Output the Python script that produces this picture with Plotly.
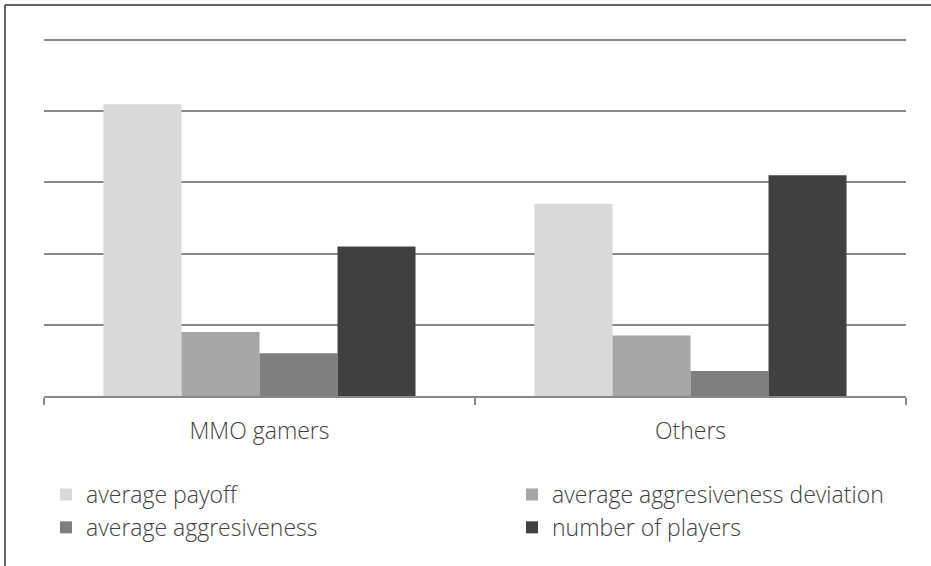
import plotly.graph_objects as go

# Group labels and series values (in gridline units, 0-5 scale)
categories = ["MMO gamers", "Others"]
series_names = [
    "average payoff",
    "average aggresiveness deviation",
    "average aggresiveness",
    "number of players",
]
avg_payoff = [4.1, 2.7]
avg_aggr_dev = [0.9, 0.85]
avg_aggr = [0.6, 0.35]
num_players = [2.1, 3.1]

series_values = [avg_payoff, avg_aggr_dev, avg_aggr, num_players]
colors = ["#d9d9d9", "#a6a6a6", "#7f7f7f", "#404040"]
# left legend column: payoff + aggressiveness; right column: deviation + players
legend_ids = ["legend", "legend2", "legend", "legend2"]

W, H = 931, 566
ML, MR, MT, MB = 44, 25, 33, 170
pw, ph = W - ML - MR, H - MT - MB
Y_MAX = 5.1

def px_x(x):
    return (x - ML) / pw

def px_y(y):
    return (H - MB - y) / ph

font = dict(family="Open Sans, sans-serif", size=23, color="#404040", weight=300)

fig = go.Figure()
for name, vals, col, lg in zip(series_names, series_values, colors, legend_ids):
    fig.add_trace(go.Bar(
        x=categories, y=vals, name=name, marker=dict(color=col, line=dict(width=0)),
        legend=lg,
    ))

legend_common = dict(
    orientation="v", xanchor="left", yanchor="middle",
    font=font, bgcolor="rgba(0,0,0,0)", itemwidth=30, traceorder="normal",
)

fig.update_layout(
    width=W, height=H,
    margin=dict(l=ML, r=MR, t=MT, b=MB, autoexpand=False),
    paper_bgcolor="white", plot_bgcolor="white",
    barmode="group", bargap=0.276, bargroupgap=0,
    font=font,
    legend=dict(x=px_x(46), y=px_y(511), **legend_common),
    legend2=dict(x=px_x(512), y=px_y(511), **legend_common),
    xaxis=dict(
        showline=True, linecolor="#8a8a8a", linewidth=1.5,
        ticks="outside", tickson="boundaries", ticklen=7, tickwidth=1.5,
        tickcolor="#8a8a8a", showgrid=False, tickfont=font, ticklabelstandoff=14,
    ),
    yaxis=dict(
        range=[0, Y_MAX], tickvals=[1, 2, 3, 4, 5], showticklabels=False, showgrid=True,
        gridcolor="#8a8a8a", gridwidth=1.5, zeroline=False, showline=False,
    ),
    shapes=[
        dict(type="line", xref="paper", yref="paper", x0=px_x(5), x1=px_x(W + 5),
             y0=px_y(5), y1=px_y(5), line=dict(color="#333333", width=1.5)),
        dict(type="line", xref="paper", yref="paper", x0=px_x(5), x1=px_x(5),
             y0=px_y(5), y1=px_y(H + 5), line=dict(color="#333333", width=1.5)),
    ],
)

fig.write_html("out.html")
